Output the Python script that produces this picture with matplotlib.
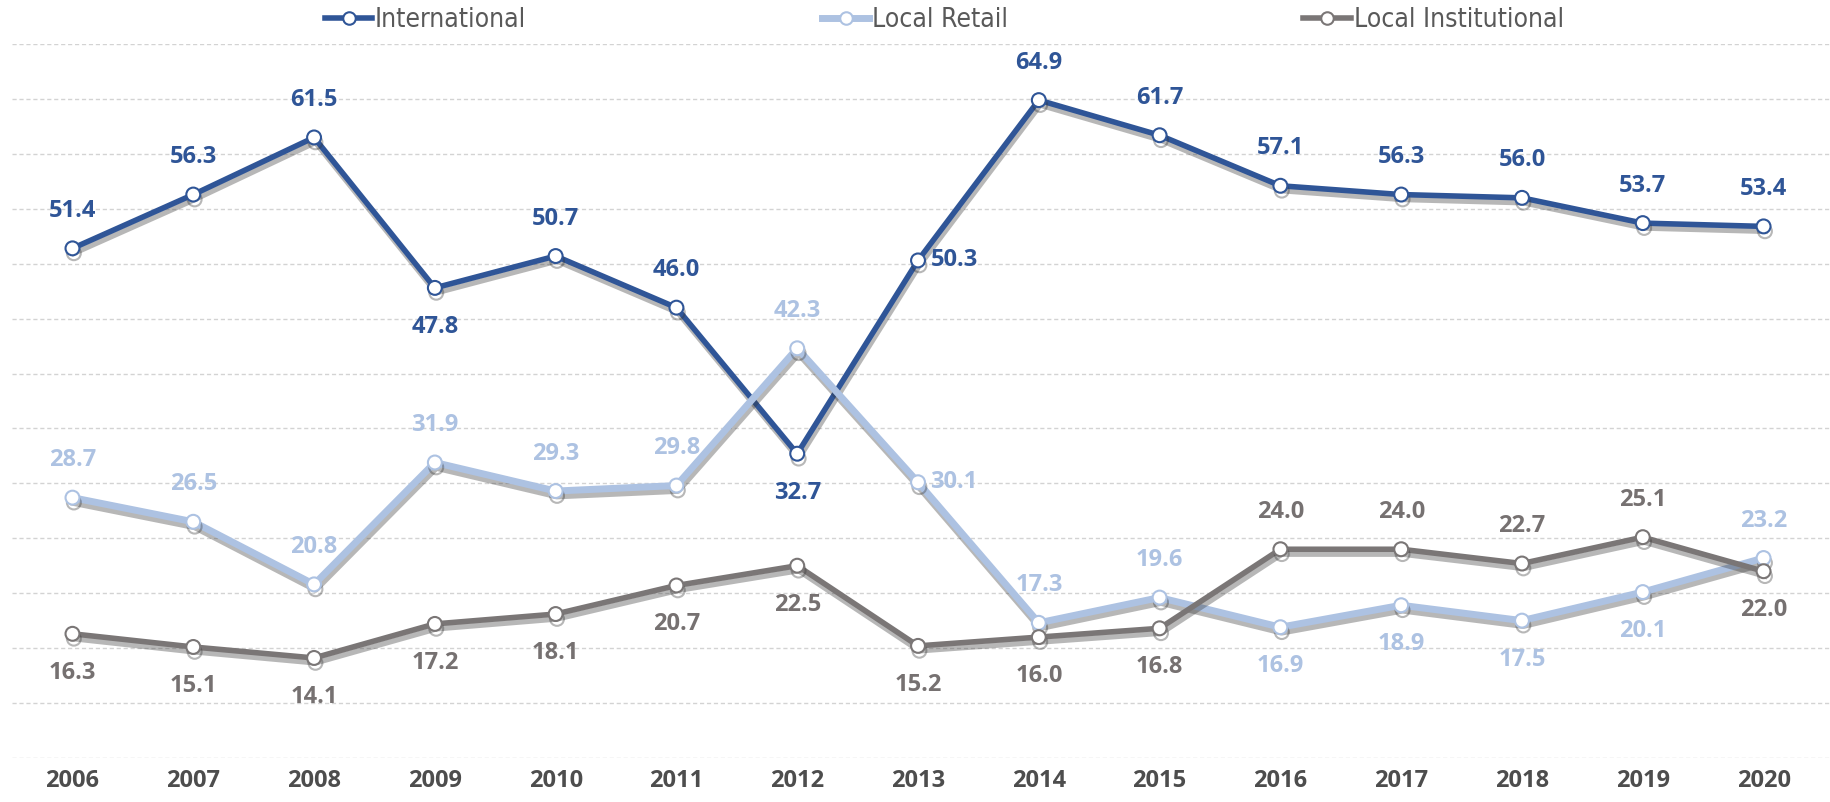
import matplotlib
matplotlib.use('Agg')
import matplotlib.pyplot as plt
import matplotlib.patheffects as pe
from matplotlib import font_manager

# data
years = ['2006', '2007', '2008', '2009', '2010', '2011', '2012', '2013',
         '2014', '2015', '2016', '2017', '2018', '2019', '2020']
international = [51.4, 56.3, 61.5, 47.8, 50.7, 46.0, 32.7, 50.3, 64.9, 61.7, 57.1, 56.3, 56.0, 53.7, 53.4]
local_retail = [28.7, 26.5, 20.8, 31.9, 29.3, 29.8, 42.3, 30.1, 17.3, 19.6, 16.9, 18.9, 17.5, 20.1, 23.2]
local_inst = [16.3, 15.1, 14.1, 17.2, 18.1, 20.7, 22.5, 15.2, 16.0, 16.8, 24.0, 24.0, 22.7, 25.1, 22.0]

# label placement: u = above, d = below, r = right
pos_int = ['u', 'u', 'u', 'd', 'u', 'u', 'd', 'r', 'u', 'u', 'u', 'u', 'u', 'u', 'u']
pos_ret = ['u', 'u', 'u', 'u', 'u', 'u', 'u', 'r', 'u', 'u', 'd', 'd', 'd', 'd', 'u']
pos_ins = ['d', 'd', 'd', 'd', 'd', 'd', 'd', 'd', 'd', 'd', 'u', 'u', 'u', 'u', 'd']

c_int = '#2F5597'
c_ret = '#ADC2E2'
c_ins = '#7A7676'
lab_ins = '#767171'

font = 'Open Sans'

# narrow font for the legend if there is one
names = {f.name for f in font_manager.fontManager.ttflist}
leg_font = {'family': 'DejaVu Sans', 'stretch': 'condensed', 'size': 19}
if 'Liberation Sans Narrow' in names:
    leg_font = {'family': 'Liberation Sans Narrow', 'size': 21}

fig = plt.figure(figsize=(18.3, 8.02), dpi=100)
ax = fig.add_axes([0.0066, 0.055, 0.9934, 0.89])

x = list(range(len(years)))
shadow = [pe.SimpleLineShadow(offset=(1, -3.5), shadow_color='#333333', alpha=0.35), pe.Normal()]

series = [
    ('International', international, c_int, c_int, pos_int, 4.0),
    ('Local Retail', local_retail, c_ret, c_ret, pos_ret, 5.0),
    ('Local Institutional', local_inst, c_ins, lab_ins, pos_ins, 4.0),
]

handles = []
for name, vals, col, lcol, pos, lw in series:
    h, = ax.plot(x, vals, color=col, lw=lw, marker='o', ms=10, mfc='white',
                 mec=col, mew=1.5, path_effects=shadow, label=name)
    handles.append(h)
    for xi, v, p in zip(x, vals, pos):
        if p == 'u':
            off, ha = (0, 27), 'center'
        elif p == 'd':
            off, ha = (0, -28), 'center'
        else:
            off, ha = (9, 0), 'left'
        ax.annotate(f'{v:.1f}', (xi, v), xytext=off, textcoords='offset points',
                    ha=ha, va='center', fontsize=17, fontweight='bold',
                    color=lcol, family=font)

ax.set_xlim(-0.5, 14.55)
ax.set_ylim(5, 70)
ax.set_yticks(range(5, 71, 5))
ax.set_yticklabels([])
ax.set_xticks(x)
ax.set_xticklabels(years, fontsize=17, fontweight='bold', color='#4D4D4D', family=font)
ax.tick_params(length=0)
ax.tick_params(axis='x', pad=8)
ax.grid(axis='y', color='#D3D3D3', ls=(0, (3, 2)), lw=1)
ax.set_axisbelow(True)
for s in ax.spines.values():
    s.set_visible(False)

leg = fig.legend(handles=handles, loc='center', bbox_to_anchor=(0.516, 0.975), ncol=3,
                 frameon=False, handlelength=1.8, handletextpad=0.1, columnspacing=11.2,
                 prop=leg_font)
for t in leg.get_texts():
    t.set_color('#595959')
for lh in leg.get_lines():
    lh.set_path_effects([])
    lh.set_markersize(9)

fig.savefig('out.png', dpi=100)
